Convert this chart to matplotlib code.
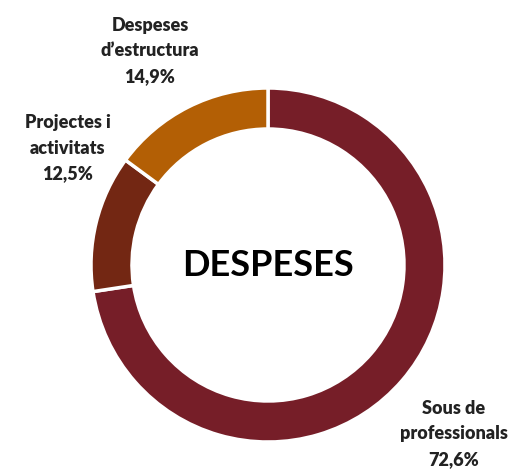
import matplotlib.pyplot as plt

# data
categories = ["Sous de\nprofessionals", "Projectes i\nactivitats", "Despeses\nd\u2019estructura"]
shares = [72.6, 12.5, 14.9]
colors = ["#761E28", "#732713", "#B35F05"]

# label anchor spots in pixel coords (x, y from top)
label_pos = [(454, 434), (68, 148), (150, 51)]

plt.rcParams['font.family'] = ['Lato', 'DejaVu Sans']

fig = plt.figure(figsize=(5.08, 4.73), dpi=100)
ax = fig.add_axes([0, 0, 1, 1])

ax.pie(shares, colors=colors, startangle=90, counterclock=False,
       center=(268, 473 - 265), radius=177,
       wedgeprops=dict(width=41, edgecolor="white", linewidth=2.5),
       frame=True)
ax.set_xlim(0, 508)
ax.set_ylim(0, 473)
ax.set_aspect("equal")
ax.axis("off")

for name, val, (x, y) in zip(categories, shares, label_pos):
    txt = name + "\n" + f"{val:.1f}".replace(".", ",") + "%"
    ax.text(x, 473 - y, txt, ha="center", va="center", fontsize=13,
            fontweight="heavy", color="#222222", linespacing=1.62)

ax.text(268, 473 - 265, "DESPESES", ha="center", va="center",
        fontsize=26, fontweight="bold", color="black")

fig.savefig("out.png", dpi=100)
